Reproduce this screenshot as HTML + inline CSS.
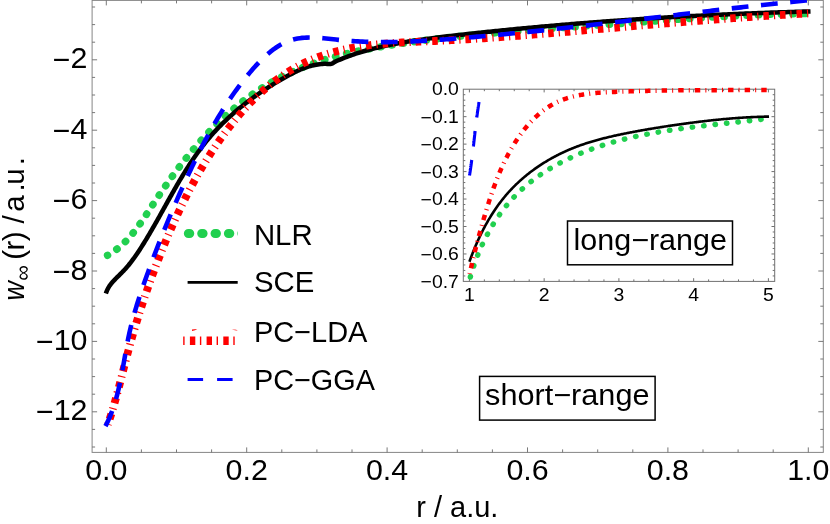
<!DOCTYPE html>
<html><head><meta charset="utf-8"><title>plot</title>
<style>
html,body{margin:0;padding:0;background:#fff;overflow:hidden}
svg{display:block;will-change:transform}
text{font-family:"Liberation Sans",sans-serif;fill:#000}
</style></head><body>
<svg width="830" height="524" viewBox="0 0 830 524">
<rect x="0" y="0" width="830" height="524" fill="#fff"/>
<defs><clipPath id="cm"><rect x="92.1" y="0" width="731.1999999999999" height="452.4"/></clipPath><clipPath id="cl"><rect x="180" y="225" width="57.8" height="17"/></clipPath><clipPath id="ci"><rect x="463.3" y="85.2" width="311.40000000000003" height="196.2"/></clipPath></defs>
<g stroke="#858585" stroke-width="1" fill="none">
<rect x="92.1" y="0.4" width="731.1999999999999" height="452.0"/>
<path d="M106.30,452.4v-5.0M106.30,0.4v5.0M141.40,452.4v-3.0M141.40,0.4v3.0M176.50,452.4v-3.0M176.50,0.4v3.0M211.60,452.4v-3.0M211.60,0.4v3.0M246.70,452.4v-5.0M246.70,0.4v5.0M281.80,452.4v-3.0M281.80,0.4v3.0M316.90,452.4v-3.0M316.90,0.4v3.0M352.00,452.4v-3.0M352.00,0.4v3.0M387.10,452.4v-5.0M387.10,0.4v5.0M422.20,452.4v-3.0M422.20,0.4v3.0M457.30,452.4v-3.0M457.30,0.4v3.0M492.40,452.4v-3.0M492.40,0.4v3.0M527.50,452.4v-5.0M527.50,0.4v5.0M562.60,452.4v-3.0M562.60,0.4v3.0M597.70,452.4v-3.0M597.70,0.4v3.0M632.80,452.4v-3.0M632.80,0.4v3.0M667.90,452.4v-5.0M667.90,0.4v5.0M703.00,452.4v-3.0M703.00,0.4v3.0M738.10,452.4v-3.0M738.10,0.4v3.0M773.20,452.4v-3.0M773.20,0.4v3.0M808.30,452.4v-5.0M808.30,0.4v5.0M92.1,447.00h3.0M823.3,447.00h-3.0M92.1,429.40h3.0M823.3,429.40h-3.0M92.1,411.80h5.0M823.3,411.80h-5.0M92.1,394.20h3.0M823.3,394.20h-3.0M92.1,376.60h3.0M823.3,376.60h-3.0M92.1,359.00h3.0M823.3,359.00h-3.0M92.1,341.40h5.0M823.3,341.40h-5.0M92.1,323.80h3.0M823.3,323.80h-3.0M92.1,306.20h3.0M823.3,306.20h-3.0M92.1,288.60h3.0M823.3,288.60h-3.0M92.1,271.00h5.0M823.3,271.00h-5.0M92.1,253.40h3.0M823.3,253.40h-3.0M92.1,235.80h3.0M823.3,235.80h-3.0M92.1,218.20h3.0M823.3,218.20h-3.0M92.1,200.60h5.0M823.3,200.60h-5.0M92.1,183.00h3.0M823.3,183.00h-3.0M92.1,165.40h3.0M823.3,165.40h-3.0M92.1,147.80h3.0M823.3,147.80h-3.0M92.1,130.20h5.0M823.3,130.20h-5.0M92.1,112.60h3.0M823.3,112.60h-3.0M92.1,95.00h3.0M823.3,95.00h-3.0M92.1,77.40h3.0M823.3,77.40h-3.0M92.1,59.80h5.0M823.3,59.80h-5.0M92.1,42.20h3.0M823.3,42.20h-3.0M92.1,24.60h3.0M823.3,24.60h-3.0M92.1,7.00h3.0M823.3,7.00h-3.0" stroke="#6a6a6a" stroke-width="0.9"/>
</g>
<g clip-path="url(#cm)" fill="none" stroke-linejoin="round">
<path d="M107.55,255.32 L109.27,254.34 L110.95,253.31 L112.60,252.25 L114.21,251.15 L115.78,250.00 L117.33,248.82 L118.84,247.61 L120.32,246.36 L121.77,245.07 L123.19,243.76 L124.59,242.41 L125.96,241.04 L127.30,239.63 L128.62,238.20 L129.92,236.75 L131.20,235.27 L132.45,233.77 L133.69,232.25 L134.91,230.71 L136.11,229.15 L137.29,227.57 L138.47,225.98 L139.63,224.38 L140.77,222.76 L141.91,221.13 L143.03,219.50 L144.15,217.85 L145.26,216.20 L146.36,214.54 L147.46,212.87 L148.56,211.21 L149.65,209.54 L150.74,207.87 L151.83,206.21 L152.92,204.54 L154.01,202.88 L155.11,201.23 L156.20,199.58 L157.30,197.93 L158.41,196.28 L159.51,194.64 L160.62,193.01 L161.73,191.38 L162.84,189.75 L163.96,188.13 L165.09,186.51 L166.21,184.89 L167.34,183.28 L168.48,181.68 L169.62,180.07 L170.76,178.48 L171.91,176.88 L173.07,175.29 L174.23,173.71 L175.40,172.13 L176.57,170.55 L177.75,168.98 L178.94,167.41 L180.13,165.85 L181.33,164.29 L182.53,162.73 L183.75,161.18 L184.97,159.64 L186.20,158.09 L187.43,156.56 L188.68,155.03 L189.93,153.50 L191.19,151.98 L192.46,150.46 L193.73,148.95 L195.02,147.44 L196.31,145.94 L197.61,144.45 L198.92,142.96 L200.23,141.48 L201.55,140.00 L202.89,138.53 L204.23,137.07 L205.57,135.62 L206.93,134.17 L208.29,132.73 L209.67,131.30 L211.05,129.87 L212.43,128.45 L213.83,127.04 L215.24,125.64 L216.65,124.25 L218.07,122.87 L219.50,121.50 L220.93,120.13 L222.38,118.77 L223.83,117.43 L225.30,116.09 L226.77,114.76 L228.24,113.45 L229.73,112.14 L231.23,110.84 L232.73,109.56 L234.24,108.28 L235.76,107.02 L237.29,105.76 L238.82,104.52 L240.37,103.29 L241.92,102.07 L243.48,100.86 L245.05,99.67 L246.63,98.48 L248.22,97.31 L249.81,96.15 L251.42,95.01 L253.03,93.88 L254.65,92.76 L256.28,91.65 L257.92,90.56 L259.56,89.48 L261.22,88.41 L262.88,87.36 L264.55,86.32 L266.23,85.30 L267.92,84.29 L269.62,83.30 L271.32,82.32 L273.04,81.35 L274.76,80.41 L276.49,79.47 L278.23,78.55 L279.98,77.65 L281.73,76.76 L283.50,75.88 L285.27,75.02 L287.05,74.17 L288.83,73.34 L290.62,72.52 L292.42,71.72 L294.22,70.92 L296.03,70.14 L297.85,69.38 L299.67,68.63 L301.50,67.89 L303.34,67.16 L305.18,66.45 L307.02,65.75 L308.87,65.06 L310.73,64.38 L312.59,63.72 L314.46,63.06 L316.32,62.42 L318.20,61.80 L320.08,61.18 L321.96,60.57 L323.84,59.98 L325.73,59.40 L327.62,58.83 L329.52,58.27 L331.42,57.72 L333.32,57.18 L335.22,56.65 L337.13,56.13 L339.03,55.62 L340.94,55.13 L342.86,54.64 L344.77,54.16 L346.69,53.69 L348.61,53.24 L350.53,52.79 L352.45,52.34 L354.38,51.91 L356.30,51.49 L358.23,51.07 L360.16,50.66 L362.09,50.26 L364.03,49.87 L365.96,49.49 L367.90,49.11 L369.84,48.74 L371.78,48.37 L373.72,48.02 L375.66,47.66 L377.60,47.32 L379.55,46.98 L381.49,46.65 L383.44,46.32 L385.38,46.00 L387.33,45.68 L389.28,45.37 L391.23,45.06 L393.18,44.76 L395.13,44.46 L397.09,44.16 L399.04,43.87 L400.99,43.58 L402.94,43.30 L404.90,43.02 L406.85,42.74 L408.81,42.47 L410.76,42.19 L412.72,41.93 L414.67,41.66 L416.63,41.40 L418.59,41.14 L420.54,40.88 L422.50,40.63 L424.46,40.37 L426.42,40.13 L428.38,39.88 L430.33,39.64 L432.29,39.40 L434.25,39.16 L436.21,38.92 L438.17,38.69 L440.13,38.46 L442.09,38.23 L444.05,38.00 L446.01,37.78 L447.98,37.56 L449.94,37.34 L451.90,37.12 L453.86,36.91 L455.82,36.70 L457.79,36.49 L459.75,36.28 L461.71,36.08 L463.68,35.87 L465.64,35.67 L467.60,35.47 L469.57,35.28 L471.53,35.08 L473.50,34.89 L475.46,34.70 L477.43,34.51 L479.39,34.32 L481.36,34.13 L483.32,33.95 L485.29,33.77 L487.26,33.59 L489.22,33.41 L491.19,33.23 L493.16,33.05 L495.12,32.88 L497.09,32.71 L499.06,32.54 L501.03,32.37 L502.99,32.20 L504.96,32.03 L506.93,31.87 L508.90,31.70 L510.87,31.54 L512.83,31.38 L514.80,31.22 L516.77,31.06 L518.74,30.90 L520.71,30.74 L522.68,30.59 L524.65,30.43 L526.62,30.28 L528.59,30.13 L530.56,29.97 L532.53,29.82 L534.50,29.67 L536.47,29.52 L538.44,29.38 L540.41,29.23 L542.38,29.08 L544.35,28.94 L546.32,28.79 L548.29,28.65 L550.26,28.50 L552.23,28.36 L554.20,28.22 L556.17,28.07 L558.14,27.93 L560.11,27.79 L562.08,27.65 L564.05,27.51 L566.02,27.37 L567.99,27.23 L569.96,27.09 L571.93,26.95 L573.91,26.81 L575.88,26.67 L577.85,26.53 L579.82,26.39 L581.79,26.25 L583.76,26.12 L585.73,25.98 L587.70,25.84 L589.67,25.70 L591.64,25.56 L593.61,25.42 L595.58,25.28 L597.56,25.15 L599.53,25.01 L601.50,24.87 L603.47,24.73 L605.44,24.59 L607.41,24.45 L609.38,24.30 L611.35,24.16 L613.32,24.02 L615.29,23.88 L617.26,23.74 L619.23,23.59 L621.20,23.45 L623.17,23.31 L625.14,23.17 L627.11,23.02 L629.08,22.88 L631.05,22.73 L633.02,22.59 L634.99,22.45 L636.96,22.30 L638.93,22.16 L640.90,22.02 L642.87,21.87 L644.84,21.73 L646.81,21.58 L648.77,21.44 L650.74,21.30 L652.71,21.16 L654.68,21.01 L656.65,20.87 L658.62,20.73 L660.59,20.59 L662.56,20.45 L664.53,20.31 L666.50,20.17 L668.47,20.03 L670.44,19.89 L672.41,19.75 L674.38,19.61 L676.35,19.48 L678.32,19.34 L680.29,19.21 L682.26,19.07 L684.23,18.94 L686.20,18.81 L688.17,18.67 L690.14,18.54 L692.11,18.41 L694.08,18.28 L696.05,18.16 L698.02,18.03 L699.99,17.90 L701.96,17.78 L703.93,17.65 L705.90,17.53 L707.87,17.41 L709.84,17.29 L711.81,17.17 L713.78,17.05 L715.75,16.94 L717.72,16.82 L719.69,16.71 L721.66,16.60 L723.64,16.49 L725.61,16.38 L727.58,16.27 L729.55,16.16 L731.52,16.06 L733.49,15.96 L735.46,15.86 L737.44,15.76 L739.41,15.66 L741.38,15.57 L743.35,15.47 L745.33,15.38 L747.30,15.29 L749.27,15.20 L751.24,15.12 L753.22,15.03 L755.19,14.95 L757.16,14.87 L759.14,14.79 L761.11,14.72 L763.09,14.64 L765.06,14.57 L767.03,14.50 L769.01,14.43 L770.98,14.37 L772.96,14.31 L774.93,14.25 L776.91,14.19 L778.88,14.13 L780.86,14.08 L782.83,14.03 L784.81,13.98 L786.78,13.94 L788.76,13.89 L790.74,13.85 L792.71,13.82 L794.69,13.78 L796.67,13.75 L798.64,13.72 L800.62,13.70 L802.60,13.67 L804.58,13.65 L806.56,13.63 L808.53,13.62 L810.51,13.61" stroke="#21d04f" stroke-width="7.4" stroke-linecap="round" stroke-dasharray="0.5 10.997" stroke-dashoffset="0.49"/>
<path d="M105.88,293.54 L106.37,292.05 L106.94,290.62 L107.59,289.24 L108.31,287.90 L109.09,286.62 L109.93,285.37 L110.83,284.16 L111.76,282.98 L112.74,281.83 L113.76,280.70 L114.80,279.59 L115.87,278.50 L116.95,277.42 L118.04,276.34 L119.14,275.27 L120.24,274.20 L121.33,273.12 L122.41,272.03 L123.48,270.93 L124.52,269.81 L125.55,268.68 L126.55,267.54 L127.54,266.38 L128.52,265.22 L129.48,264.03 L130.42,262.84 L131.35,261.64 L132.27,260.43 L133.18,259.21 L134.07,257.98 L134.95,256.74 L135.82,255.49 L136.68,254.24 L137.54,252.97 L138.38,251.71 L139.22,250.43 L140.05,249.16 L140.87,247.87 L141.69,246.59 L142.51,245.29 L143.31,244.00 L144.12,242.70 L144.92,241.40 L145.72,240.10 L146.51,238.79 L147.30,237.48 L148.08,236.17 L148.86,234.85 L149.64,233.53 L150.42,232.21 L151.19,230.89 L151.96,229.57 L152.72,228.24 L153.49,226.91 L154.25,225.58 L155.01,224.25 L155.77,222.91 L156.52,221.58 L157.28,220.24 L158.03,218.90 L158.78,217.57 L159.53,216.23 L160.28,214.89 L161.02,213.54 L161.77,212.20 L162.52,210.86 L163.26,209.52 L164.01,208.17 L164.75,206.83 L165.50,205.49 L166.24,204.15 L166.99,202.80 L167.74,201.46 L168.48,200.12 L169.23,198.78 L169.98,197.44 L170.73,196.10 L171.48,194.77 L172.23,193.43 L172.99,192.09 L173.75,190.76 L174.51,189.43 L175.27,188.10 L176.03,186.77 L176.80,185.44 L177.56,184.12 L178.33,182.80 L179.11,181.48 L179.89,180.16 L180.67,178.84 L181.45,177.53 L182.24,176.22 L183.03,174.91 L183.83,173.61 L184.63,172.31 L185.43,171.01 L186.24,169.72 L187.05,168.43 L187.87,167.14 L188.69,165.86 L189.52,164.58 L190.35,163.31 L191.19,162.03 L192.04,160.77 L192.89,159.51 L193.74,158.25 L194.61,157.00 L195.47,155.75 L196.35,154.51 L197.23,153.27 L198.12,152.03 L199.01,150.81 L199.92,149.59 L200.82,148.37 L201.74,147.16 L202.67,145.95 L203.60,144.75 L204.54,143.56 L205.48,142.37 L206.44,141.19 L207.41,140.02 L208.38,138.85 L209.36,137.69 L210.35,136.54 L211.35,135.39 L212.35,134.25 L213.37,133.11 L214.39,131.98 L215.42,130.86 L216.46,129.75 L217.51,128.64 L218.56,127.54 L219.62,126.44 L220.69,125.35 L221.77,124.27 L222.85,123.20 L223.94,122.13 L225.04,121.06 L226.15,120.01 L227.26,118.96 L228.38,117.92 L229.50,116.88 L230.64,115.85 L231.78,114.83 L232.92,113.81 L234.07,112.80 L235.23,111.80 L236.40,110.80 L237.57,109.81 L238.74,108.83 L239.93,107.85 L241.11,106.88 L242.31,105.92 L243.51,104.96 L244.71,104.01 L245.92,103.07 L247.14,102.13 L248.36,101.20 L249.59,100.27 L250.82,99.35 L252.06,98.44 L253.30,97.54 L254.54,96.64 L255.79,95.75 L257.05,94.86 L258.31,93.98 L259.57,93.11 L260.84,92.25 L262.12,91.39 L263.39,90.54 L264.67,89.69 L265.96,88.85 L267.25,88.02 L268.54,87.19 L269.84,86.37 L271.14,85.56 L272.44,84.75 L273.75,83.95 L275.06,83.16 L276.37,82.37 L277.69,81.59 L279.01,80.82 L280.33,80.05 L281.66,79.29 L282.99,78.54 L284.32,77.79 L285.65,77.05 L286.99,76.31 L288.32,75.58 L289.67,74.86 L291.01,74.15 L292.36,73.45 L293.71,72.76 L295.07,72.09 L296.43,71.43 L297.80,70.79 L299.17,70.16 L300.55,69.56 L301.94,68.97 L303.33,68.41 L304.74,67.88 L306.15,67.37 L307.57,66.89 L309.00,66.44 L310.45,66.02 L311.90,65.63 L313.36,65.27 L314.84,64.95 L316.33,64.67 L317.83,64.43 L319.34,64.23 L320.87,64.07 L322.42,63.95 L323.98,63.87 L325.54,63.86 L327.13,63.88 L328.74,63.95 L330.41,64.03 L332.10,63.65 L333.01,63.00 L334.79,61.86 L336.55,61.05 L338.27,60.30 L340.00,59.57 L341.73,58.86 L343.47,58.16 L345.21,57.48 L346.95,56.82 L348.70,56.18 L350.45,55.54 L352.21,54.93 L353.98,54.33 L355.74,53.74 L357.51,53.17 L359.29,52.61 L361.06,52.06 L362.85,51.53 L364.63,51.01 L366.42,50.50 L368.21,50.00 L370.01,49.52 L371.80,49.04 L373.61,48.58 L375.41,48.13 L377.22,47.69 L379.02,47.25 L380.84,46.83 L382.65,46.42 L384.47,46.02 L386.28,45.63 L388.11,45.24 L389.93,44.87 L391.75,44.50 L393.58,44.15 L395.41,43.80 L397.24,43.45 L399.08,43.12 L400.91,42.79 L402.75,42.47 L404.59,42.16 L406.43,41.86 L408.27,41.56 L410.11,41.26 L411.96,40.98 L413.80,40.69 L415.65,40.42 L417.50,40.15 L419.35,39.88 L421.20,39.62 L423.05,39.37 L424.91,39.12 L426.76,38.87 L428.62,38.62 L430.47,38.39 L432.33,38.15 L434.18,37.92 L436.04,37.69 L437.90,37.46 L439.76,37.23 L441.62,37.01 L443.48,36.79 L445.33,36.57 L447.19,36.36 L449.05,36.14 L450.91,35.93 L452.77,35.71 L454.63,35.50 L456.49,35.29 L458.35,35.08 L460.21,34.87 L462.07,34.66 L463.93,34.45 L465.79,34.25 L467.65,34.04 L469.51,33.84 L471.37,33.63 L473.23,33.43 L475.09,33.23 L476.95,33.03 L478.81,32.83 L480.67,32.63 L482.53,32.43 L484.39,32.23 L486.25,32.04 L488.11,31.84 L489.97,31.65 L491.83,31.46 L493.69,31.27 L495.55,31.08 L497.41,30.89 L499.27,30.70 L501.13,30.51 L502.99,30.32 L504.85,30.14 L506.71,29.95 L508.57,29.77 L510.43,29.58 L512.29,29.40 L514.15,29.22 L516.01,29.04 L517.87,28.86 L519.73,28.68 L521.59,28.50 L523.45,28.33 L525.31,28.15 L527.17,27.98 L529.03,27.80 L530.89,27.63 L532.75,27.46 L534.61,27.29 L536.47,27.12 L538.33,26.95 L540.19,26.78 L542.05,26.61 L543.91,26.45 L545.77,26.28 L547.63,26.12 L549.49,25.95 L551.35,25.79 L553.21,25.63 L555.07,25.47 L556.94,25.31 L558.80,25.15 L560.66,24.99 L562.52,24.84 L564.38,24.68 L566.24,24.52 L568.10,24.37 L569.96,24.22 L571.82,24.06 L573.68,23.91 L575.54,23.76 L577.41,23.61 L579.27,23.46 L581.13,23.31 L582.99,23.17 L584.85,23.02 L586.71,22.88 L588.57,22.73 L590.43,22.59 L592.30,22.45 L594.16,22.30 L596.02,22.16 L597.88,22.02 L599.74,21.88 L601.60,21.74 L603.47,21.61 L605.33,21.47 L607.19,21.33 L609.05,21.20 L610.91,21.07 L612.78,20.93 L614.64,20.80 L616.50,20.67 L618.36,20.54 L620.22,20.41 L622.09,20.28 L623.95,20.15 L625.81,20.03 L627.67,19.90 L629.54,19.77 L631.40,19.65 L633.26,19.53 L635.12,19.40 L636.99,19.28 L638.85,19.16 L640.71,19.04 L642.57,18.92 L644.44,18.80 L646.30,18.68 L648.16,18.57 L650.03,18.45 L651.89,18.34 L653.75,18.22 L655.62,18.11 L657.48,17.99 L659.34,17.88 L661.21,17.77 L663.07,17.66 L664.93,17.55 L666.80,17.44 L668.66,17.34 L670.52,17.23 L672.39,17.12 L674.25,17.02 L676.11,16.91 L677.98,16.81 L679.84,16.71 L681.71,16.60 L683.57,16.50 L685.44,16.40 L687.30,16.30 L689.16,16.20 L691.03,16.10 L692.89,16.01 L694.76,15.91 L696.62,15.82 L698.49,15.72 L700.35,15.63 L702.22,15.53 L704.08,15.44 L705.95,15.35 L707.81,15.26 L709.68,15.17 L711.54,15.08 L713.41,14.99 L715.27,14.90 L717.14,14.81 L719.00,14.73 L720.87,14.64 L722.74,14.56 L724.60,14.47 L726.47,14.39 L728.33,14.31 L730.20,14.23 L732.06,14.15 L733.93,14.07 L735.80,13.99 L737.66,13.91 L739.53,13.83 L741.40,13.75 L743.26,13.68 L745.13,13.60 L747.00,13.53 L748.86,13.45 L750.73,13.38 L752.60,13.31 L754.46,13.23 L756.33,13.16 L758.20,13.09 L760.07,13.02 L761.93,12.95 L763.80,12.89 L765.67,12.82 L767.54,12.75 L769.40,12.69 L771.27,12.62 L773.14,12.56 L775.01,12.49 L776.88,12.43 L778.75,12.37 L780.61,12.31 L782.48,12.24 L784.35,12.18 L786.22,12.13 L788.09,12.07 L789.96,12.01 L791.83,11.95 L793.69,11.89 L795.56,11.84 L797.43,11.78 L799.30,11.73 L801.17,11.68 L803.04,11.62 L804.91,11.57 L806.78,11.52 L808.65,11.47 L810.52,11.42" stroke="#000" stroke-width="4.5"/>
<path d="M107.88,424.40 L108.63,422.20 L109.36,420.00 L110.08,417.79 L110.78,415.58 L111.48,413.36 L112.16,411.14 L112.83,408.92 L113.49,406.69 L114.14,404.45 L114.78,402.22 L115.42,399.98 L116.04,397.73 L116.66,395.49 L117.27,393.24 L117.88,390.99 L118.48,388.74 L119.07,386.48 L119.67,384.22 L120.25,381.96 L120.84,379.70 L121.42,377.44 L122.01,375.18 L122.59,372.92 L123.17,370.65 L123.75,368.39 L124.33,366.12 L124.91,363.86 L125.50,361.60 L126.09,359.33 L126.68,357.07 L127.27,354.81 L127.87,352.54 L128.48,350.28 L129.09,348.03 L129.71,345.77 L130.33,343.51 L130.96,341.26 L131.60,339.01 L132.24,336.76 L132.89,334.51 L133.54,332.26 L134.20,330.01 L134.87,327.77 L135.54,325.53 L136.22,323.29 L136.90,321.05 L137.59,318.81 L138.29,316.58 L138.99,314.35 L139.70,312.12 L140.42,309.89 L141.14,307.66 L141.86,305.43 L142.60,303.21 L143.34,300.99 L144.08,298.77 L144.83,296.55 L145.59,294.34 L146.35,292.13 L147.12,289.92 L147.89,287.71 L148.67,285.50 L149.45,283.30 L150.25,281.10 L151.04,278.90 L151.85,276.70 L152.65,274.51 L153.47,272.31 L154.29,270.12 L155.11,267.93 L155.94,265.75 L156.78,263.57 L157.62,261.39 L158.47,259.21 L159.33,257.03 L160.19,254.86 L161.05,252.69 L161.92,250.52 L162.80,248.35 L163.68,246.19 L164.57,244.03 L165.46,241.87 L166.36,239.72 L167.27,237.57 L168.18,235.42 L169.09,233.27 L170.02,231.13 L170.95,228.99 L171.88,226.85 L172.82,224.71 L173.77,222.58 L174.73,220.46 L175.69,218.33 L176.66,216.21 L177.64,214.09 L178.63,211.98 L179.62,209.87 L180.62,207.77 L181.63,205.66 L182.65,203.57 L183.67,201.47 L184.71,199.39 L185.75,197.30 L186.80,195.22 L187.86,193.14 L188.93,191.07 L190.01,189.01 L191.10,186.94 L192.20,184.89 L193.31,182.83 L194.42,180.78 L195.55,178.74 L196.69,176.70 L197.84,174.67 L199.00,172.64 L200.17,170.62 L201.35,168.61 L202.54,166.59 L203.74,164.59 L204.96,162.59 L206.18,160.59 L207.42,158.61 L208.67,156.62 L209.93,154.65 L211.20,152.68 L212.48,150.71 L213.78,148.75 L215.09,146.80 L216.41,144.86 L217.75,142.92 L219.10,140.98 L220.46,139.06 L221.83,137.14 L223.22,135.23 L224.62,133.32 L226.04,131.43 L227.47,129.54 L228.91,127.66 L230.36,125.80 L231.83,123.94 L233.32,122.09 L234.81,120.26 L236.32,118.43 L237.85,116.62 L239.38,114.83 L240.94,113.04 L242.50,111.27 L244.08,109.51 L245.68,107.77 L247.28,106.05 L248.90,104.34 L250.54,102.64 L252.19,100.96 L253.86,99.30 L255.54,97.66 L257.23,96.04 L258.94,94.43 L260.66,92.85 L262.40,91.28 L264.15,89.73 L265.92,88.21 L267.70,86.70 L269.49,85.22 L271.30,83.76 L273.13,82.33 L274.97,80.91 L276.83,79.52 L278.70,78.16 L280.58,76.81 L282.48,75.50 L284.40,74.21 L286.33,72.94 L288.28,71.71 L290.24,70.50 L292.22,69.32 L294.21,68.16 L296.22,67.04 L298.24,65.94 L300.28,64.87 L302.33,63.84 L304.40,62.83 L306.49,61.86 L308.59,60.91 L310.71,60.00 L312.84,59.12 L314.98,58.26 L317.14,57.44 L319.31,56.64 L321.50,55.87 L323.69,55.13 L325.90,54.41 L328.12,53.73 L330.34,53.06 L332.58,52.42 L334.83,51.81 L337.09,51.22 L339.35,50.66 L341.62,50.12 L343.90,49.60 L346.19,49.10 L348.49,48.63 L350.79,48.17 L353.09,47.74 L355.40,47.33 L357.72,46.93 L360.04,46.56 L362.36,46.21 L364.69,45.87 L367.02,45.55 L369.35,45.25 L371.68,44.96 L374.02,44.69 L376.35,44.44 L378.69,44.20 L381.03,43.98 L383.37,43.76 L385.71,43.56 L388.05,43.38 L390.40,43.20 L392.74,43.03 L395.09,42.87 L397.43,42.73 L399.78,42.59 L402.13,42.45 L404.48,42.33 L406.83,42.21 L409.17,42.09 L411.52,41.98 L413.87,41.88 L416.22,41.78 L418.57,41.68 L420.92,41.58 L423.27,41.48 L425.62,41.39 L427.97,41.29 L430.31,41.19 L432.66,41.10 L435.01,41.00 L437.35,40.89 L439.70,40.78 L442.04,40.68 L444.38,40.56 L446.73,40.45 L449.07,40.33 L451.41,40.21 L453.75,40.09 L456.09,39.96 L458.43,39.83 L460.77,39.70 L463.11,39.57 L465.44,39.43 L467.78,39.29 L470.12,39.15 L472.45,39.01 L474.79,38.87 L477.12,38.72 L479.45,38.57 L481.79,38.42 L484.12,38.27 L486.45,38.11 L488.79,37.95 L491.12,37.79 L493.45,37.63 L495.78,37.47 L498.11,37.30 L500.44,37.14 L502.77,36.97 L505.10,36.80 L507.43,36.63 L509.76,36.46 L512.08,36.28 L514.41,36.10 L516.74,35.93 L519.07,35.75 L521.40,35.57 L523.72,35.39 L526.05,35.20 L528.38,35.02 L530.70,34.83 L533.03,34.65 L535.36,34.46 L537.68,34.27 L540.01,34.08 L542.34,33.89 L544.66,33.70 L546.99,33.51 L549.32,33.32 L551.64,33.12 L553.97,32.93 L556.30,32.73 L558.62,32.54 L560.95,32.34 L563.27,32.15 L565.60,31.95 L567.93,31.75 L570.25,31.55 L572.58,31.36 L574.91,31.16 L577.24,30.96 L579.56,30.76 L581.89,30.56 L584.22,30.36 L586.55,30.16 L588.87,29.96 L591.20,29.76 L593.53,29.56 L595.86,29.36 L598.19,29.16 L600.52,28.96 L602.85,28.76 L605.18,28.56 L607.51,28.36 L609.84,28.16 L612.17,27.97 L614.50,27.77 L616.83,27.57 L619.16,27.37 L621.49,27.17 L623.82,26.97 L626.15,26.77 L628.49,26.57 L630.82,26.38 L633.15,26.18 L635.48,25.98 L637.81,25.79 L640.15,25.59 L642.48,25.39 L644.81,25.20 L647.14,25.00 L649.48,24.81 L651.81,24.61 L654.14,24.42 L656.47,24.22 L658.81,24.03 L661.14,23.84 L663.47,23.65 L665.81,23.45 L668.14,23.26 L670.47,23.07 L672.81,22.88 L675.14,22.69 L677.48,22.50 L679.81,22.32 L682.14,22.13 L684.48,21.94 L686.81,21.75 L689.15,21.57 L691.48,21.38 L693.81,21.20 L696.15,21.02 L698.48,20.83 L700.82,20.65 L703.15,20.47 L705.48,20.29 L707.82,20.11 L710.15,19.93 L712.49,19.76 L714.82,19.58 L717.16,19.40 L719.49,19.23 L721.82,19.05 L724.16,18.88 L726.49,18.71 L728.83,18.54 L731.16,18.37 L733.49,18.20 L735.83,18.03 L738.16,17.87 L740.50,17.70 L742.83,17.54 L745.16,17.37 L747.50,17.21 L749.83,17.05 L752.16,16.89 L754.50,16.73 L756.83,16.57 L759.16,16.42 L761.50,16.26 L763.83,16.11 L766.16,15.96 L768.50,15.81 L770.83,15.66 L773.16,15.51 L775.49,15.36 L777.83,15.22 L780.16,15.07 L782.49,14.93 L784.82,14.79 L787.15,14.65 L789.49,14.51 L791.82,14.37 L794.15,14.24 L796.48,14.10 L798.81,13.97 L801.14,13.84 L803.47,13.71 L805.80,13.58 L808.13,13.46 L810.46,13.33" stroke="#f00" stroke-width="7.8" stroke-dasharray="1.2 4.936 5.536 4.936" stroke-dashoffset="0.6"/>
<path d="M105.47,426.15 L106.57,423.98 L107.62,421.80 L108.63,419.60 L109.59,417.39 L110.51,415.16 L111.40,412.93 L112.24,410.68 L113.04,408.42 L113.82,406.15 L114.55,403.86 L115.26,401.57 L115.93,399.27 L116.58,396.96 L117.20,394.64 L117.79,392.31 L118.37,389.98 L118.92,387.63 L119.44,385.29 L119.96,382.93 L120.45,380.57 L120.93,378.21 L121.39,375.84 L121.85,373.47 L122.29,371.09 L122.73,368.72 L123.15,366.34 L123.58,363.96 L124.00,361.57 L124.41,359.19 L124.83,356.81 L125.25,354.43 L125.67,352.05 L126.10,349.67 L126.54,347.29 L126.98,344.92 L127.43,342.55 L127.89,340.18 L128.37,337.82 L128.86,335.46 L129.37,333.11 L129.90,330.76 L130.44,328.42 L131.00,326.08 L131.58,323.75 L132.18,321.43 L132.79,319.11 L133.42,316.80 L134.06,314.49 L134.72,312.18 L135.39,309.88 L136.08,307.58 L136.78,305.29 L137.48,303.00 L138.21,300.71 L138.94,298.43 L139.68,296.15 L140.43,293.87 L141.20,291.59 L141.97,289.32 L142.75,287.04 L143.53,284.77 L144.33,282.50 L145.13,280.24 L145.93,277.97 L146.74,275.70 L147.56,273.44 L148.38,271.17 L149.21,268.91 L150.04,266.64 L150.88,264.38 L151.72,262.12 L152.57,259.86 L153.42,257.60 L154.27,255.34 L155.13,253.08 L156.00,250.83 L156.87,248.57 L157.74,246.32 L158.62,244.06 L159.51,241.81 L160.40,239.56 L161.29,237.32 L162.19,235.07 L163.09,232.83 L164.00,230.58 L164.91,228.34 L165.83,226.11 L166.75,223.87 L167.67,221.63 L168.60,219.40 L169.54,217.17 L170.47,214.94 L171.42,212.72 L172.36,210.49 L173.31,208.27 L174.27,206.05 L175.23,203.84 L176.19,201.62 L177.16,199.41 L178.13,197.20 L179.10,195.00 L180.08,192.79 L181.07,190.59 L182.06,188.40 L183.05,186.20 L184.04,184.01 L185.04,181.82 L186.05,179.64 L187.05,177.46 L188.06,175.28 L189.08,173.10 L190.10,170.93 L191.12,168.76 L192.15,166.60 L193.18,164.44 L194.22,162.28 L195.26,160.13 L196.31,157.98 L197.37,155.83 L198.43,153.69 L199.50,151.56 L200.58,149.42 L201.66,147.29 L202.75,145.17 L203.85,143.05 L204.96,140.94 L206.08,138.83 L207.21,136.72 L208.34,134.62 L209.49,132.52 L210.65,130.43 L211.81,128.35 L212.99,126.27 L214.18,124.19 L215.38,122.12 L216.59,120.06 L217.81,118.00 L219.05,115.95 L220.30,113.90 L221.56,111.86 L222.83,109.82 L224.12,107.79 L225.43,105.77 L226.74,103.75 L228.07,101.74 L229.42,99.74 L230.78,97.74 L232.16,95.75 L233.55,93.76 L234.96,91.78 L236.39,89.81 L237.83,87.84 L239.29,85.88 L240.77,83.93 L242.26,81.99 L243.78,80.05 L245.31,78.12 L246.86,76.20 L248.43,74.28 L250.02,72.37 L251.63,70.48 L253.26,68.59 L254.91,66.73 L256.58,64.89 L258.28,63.07 L259.99,61.29 L261.73,59.53 L263.49,57.82 L265.28,56.15 L267.09,54.53 L268.93,52.96 L270.79,51.44 L272.68,49.98 L274.60,48.59 L276.54,47.26 L278.51,46.00 L280.51,44.82 L282.53,43.71 L284.59,42.69 L286.67,41.75 L288.79,40.91 L290.94,40.16 L293.12,39.51 L295.33,38.97 L297.57,38.52 L299.83,38.16 L302.13,37.89 L304.45,37.70 L306.79,37.58 L309.15,37.52 L311.53,37.53 L313.92,37.60 L316.34,37.71 L318.76,37.86 L321.19,38.05 L323.63,38.27 L326.08,38.51 L328.54,38.76 L330.99,39.03 L333.45,39.31 L335.91,39.58 L338.36,39.84 L340.81,40.09 L343.25,40.32 L345.68,40.54 L348.12,40.74 L350.54,40.93 L352.97,41.10 L355.38,41.26 L357.80,41.40 L360.21,41.53 L362.61,41.64 L365.02,41.74 L367.42,41.83 L369.82,41.91 L372.21,41.97 L374.60,42.02 L376.99,42.06 L379.38,42.09 L381.77,42.10 L384.16,42.11 L386.55,42.10 L388.93,42.08 L391.32,42.06 L393.70,42.02 L396.09,41.98 L398.47,41.92 L400.86,41.86 L403.25,41.78 L405.64,41.70 L408.03,41.61 L410.42,41.52 L412.81,41.41 L415.21,41.30 L417.61,41.18 L420.01,41.06 L422.41,40.92 L424.81,40.79 L427.21,40.64 L429.62,40.49 L432.02,40.34 L434.43,40.18 L436.84,40.01 L439.25,39.84 L441.66,39.66 L444.07,39.49 L446.48,39.30 L448.89,39.12 L451.30,38.92 L453.71,38.73 L456.12,38.53 L458.53,38.33 L460.94,38.13 L463.35,37.93 L465.76,37.72 L468.16,37.51 L470.57,37.30 L472.98,37.09 L475.39,36.88 L477.79,36.66 L480.20,36.45 L482.60,36.23 L485.00,36.01 L487.41,35.79 L489.81,35.57 L492.21,35.35 L494.61,35.12 L497.01,34.90 L499.41,34.67 L501.81,34.44 L504.21,34.21 L506.61,33.98 L509.00,33.75 L511.40,33.51 L513.80,33.28 L516.19,33.04 L518.59,32.80 L520.99,32.56 L523.38,32.32 L525.78,32.08 L528.17,31.84 L530.56,31.59 L532.96,31.35 L535.35,31.10 L537.74,30.85 L540.14,30.60 L542.53,30.35 L544.92,30.10 L547.31,29.85 L549.71,29.59 L552.10,29.34 L554.49,29.08 L556.88,28.82 L559.27,28.57 L561.66,28.31 L564.05,28.04 L566.44,27.78 L568.83,27.52 L571.22,27.26 L573.62,26.99 L576.01,26.72 L578.40,26.46 L580.79,26.19 L583.18,25.92 L585.57,25.65 L587.96,25.38 L590.35,25.10 L592.74,24.83 L595.13,24.56 L597.52,24.28 L599.91,24.01 L602.30,23.73 L604.69,23.45 L607.09,23.17 L609.48,22.89 L611.87,22.61 L614.26,22.33 L616.65,22.05 L619.04,21.77 L621.43,21.49 L623.83,21.20 L626.22,20.92 L628.61,20.64 L631.00,20.35 L633.39,20.07 L635.78,19.78 L638.18,19.50 L640.57,19.21 L642.96,18.92 L645.35,18.64 L647.74,18.35 L650.14,18.06 L652.53,17.78 L654.92,17.49 L657.31,17.20 L659.71,16.92 L662.10,16.63 L664.49,16.34 L666.88,16.06 L669.27,15.77 L671.67,15.48 L674.06,15.19 L676.45,14.91 L678.85,14.62 L681.24,14.33 L683.63,14.05 L686.02,13.76 L688.42,13.48 L690.81,13.19 L693.20,12.91 L695.60,12.62 L697.99,12.34 L700.38,12.06 L702.78,11.77 L705.17,11.49 L707.56,11.21 L709.96,10.93 L712.35,10.65 L714.74,10.37 L717.14,10.09 L719.53,9.81 L721.92,9.54 L724.32,9.26 L726.71,8.98 L729.10,8.71 L731.50,8.43 L733.89,8.16 L736.29,7.89 L738.68,7.62 L741.07,7.35 L743.47,7.08 L745.86,6.81 L748.26,6.54 L750.65,6.28 L753.04,6.01 L755.44,5.75 L757.83,5.49 L760.23,5.23 L762.62,4.97 L765.02,4.71 L767.41,4.45 L769.80,4.20 L772.20,3.95 L774.59,3.69 L776.99,3.44 L779.38,3.19 L781.78,2.95 L784.17,2.70 L786.57,2.46 L788.96,2.21 L791.36,1.97 L793.75,1.73 L796.15,1.49 L798.54,1.26 L800.94,1.03 L803.33,0.79 L805.73,0.56 L808.12,0.34 L810.52,0.11" stroke="#00f" stroke-width="4.6" stroke-dasharray="16.8 12.587" stroke-dashoffset="0.26"/>
</g>
<text x="106.3" y="479.8" font-size="30.4" text-anchor="middle">0.0</text>
<text x="246.7" y="479.8" font-size="30.4" text-anchor="middle">0.2</text>
<text x="387.1" y="479.8" font-size="30.4" text-anchor="middle">0.4</text>
<text x="527.5" y="479.8" font-size="30.4" text-anchor="middle">0.6</text>
<text x="667.9" y="479.8" font-size="30.4" text-anchor="middle">0.8</text>
<text x="808.3" y="479.8" font-size="30.4" text-anchor="middle">1.0</text>
<text x="87.5" y="68.4" font-size="30.4" text-anchor="end"><tspan dy="1.9">−</tspan><tspan dy="-1.9">2</tspan></text>
<text x="87.5" y="138.8" font-size="30.4" text-anchor="end"><tspan dy="1.9">−</tspan><tspan dy="-1.9">4</tspan></text>
<text x="87.5" y="209.2" font-size="30.4" text-anchor="end"><tspan dy="1.9">−</tspan><tspan dy="-1.9">6</tspan></text>
<text x="87.5" y="279.6" font-size="30.4" text-anchor="end"><tspan dy="1.9">−</tspan><tspan dy="-1.9">8</tspan></text>
<text x="87.5" y="350.0" font-size="30.4" text-anchor="end"><tspan dy="1.9">−</tspan><tspan dy="-1.9">10</tspan></text>
<text x="87.5" y="420.4" font-size="30.4" text-anchor="end"><tspan dy="1.9">−</tspan><tspan dy="-1.9">12</tspan></text>
<text x="416.2" y="516.5" font-size="29">r / a.u.</text>
<g transform="translate(23.8,0) rotate(-90)"><text transform="translate(-300.6,0) scale(0.92,1)" font-size="29" font-style="italic">w</text><text x="-280.85" y="6.4" font-size="22">∞</text><text x="-259.7 -250.4 -241.3 -223.4 -211.8 -191.6 -184.7 -165.3" y="0" font-size="29.5">(r)/a.u.</text></g>
<g fill="none">
<path d="M188.4,233.5H242" stroke="#21d04f" stroke-width="9.1" stroke-linecap="round" stroke-dasharray="1.3 12.05" clip-path="url(#cl)"/>
<path d="M187.6,282.4H237.7" stroke="#000" stroke-width="2.9"/>
<path d="M183.2,340.7H237.7" stroke="#f00" stroke-width="8.5" stroke-dasharray="1.4 5.3 5.4 4.6"/>
<path d="M187.6,379.5H237.7" stroke="#00f" stroke-width="3.2" stroke-dasharray="15.5 14"/>
</g>
<text transform="translate(253.9,244.7) scale(0.985,1)" font-size="29.8">NLR</text>
<text transform="translate(253.9,291.5) scale(0.985,1)" font-size="29.8">SCE</text>
<text transform="translate(253.9,341.5) scale(0.972,1)" font-size="29.8">PC−LDA</text>
<text transform="translate(253.9,390.0) scale(0.968,1)" font-size="29.8">PC−GGA</text>
<path d="M192,330.9V329.6L197.3,329.1L195,330.3Z" fill="#f00"/>
<path d="M231.7,329.2L236,329.4L237.8,331L235.3,330.4Z" fill="#f00" opacity="0.6"/>
<rect x="479.6" y="376.4" width="175.5" height="43.7" fill="#fff" stroke="#000" stroke-width="1.5"/>
<text transform="translate(567.3,404.8) scale(1.005,0.96)" font-size="30.5" text-anchor="middle">short−range</text>
<rect x="463.3" y="89.2" width="311.40000000000003" height="192.2" fill="#fff"/>
<g stroke="#707070" stroke-width="1" fill="none">
<rect x="463.3" y="89.2" width="311.40000000000003" height="192.2"/>
<path d="M469.40,281.4v-3.2M469.40,89.2v3.2M484.35,281.4v-2.0M484.35,89.2v2.0M499.30,281.4v-2.0M499.30,89.2v2.0M514.25,281.4v-2.0M514.25,89.2v2.0M529.20,281.4v-2.0M529.20,89.2v2.0M544.15,281.4v-3.2M544.15,89.2v3.2M559.10,281.4v-2.0M559.10,89.2v2.0M574.05,281.4v-2.0M574.05,89.2v2.0M589.00,281.4v-2.0M589.00,89.2v2.0M603.95,281.4v-2.0M603.95,89.2v2.0M618.90,281.4v-3.2M618.90,89.2v3.2M633.85,281.4v-2.0M633.85,89.2v2.0M648.80,281.4v-2.0M648.80,89.2v2.0M663.75,281.4v-2.0M663.75,89.2v2.0M678.70,281.4v-2.0M678.70,89.2v2.0M693.65,281.4v-3.2M693.65,89.2v3.2M708.60,281.4v-2.0M708.60,89.2v2.0M723.55,281.4v-2.0M723.55,89.2v2.0M738.50,281.4v-2.0M738.50,89.2v2.0M753.45,281.4v-2.0M753.45,89.2v2.0M768.40,281.4v-3.2M768.40,89.2v3.2M463.3,94.69h2.0M774.7,94.69h-2.0M463.3,100.18h2.0M774.7,100.18h-2.0M463.3,105.68h2.0M774.7,105.68h-2.0M463.3,111.17h2.0M774.7,111.17h-2.0M463.3,116.66h3.2M774.7,116.66h-3.2M463.3,122.15h2.0M774.7,122.15h-2.0M463.3,127.64h2.0M774.7,127.64h-2.0M463.3,133.14h2.0M774.7,133.14h-2.0M463.3,138.63h2.0M774.7,138.63h-2.0M463.3,144.12h3.2M774.7,144.12h-3.2M463.3,149.61h2.0M774.7,149.61h-2.0M463.3,155.10h2.0M774.7,155.10h-2.0M463.3,160.60h2.0M774.7,160.60h-2.0M463.3,166.09h2.0M774.7,166.09h-2.0M463.3,171.58h3.2M774.7,171.58h-3.2M463.3,177.07h2.0M774.7,177.07h-2.0M463.3,182.56h2.0M774.7,182.56h-2.0M463.3,188.06h2.0M774.7,188.06h-2.0M463.3,193.55h2.0M774.7,193.55h-2.0M463.3,199.04h3.2M774.7,199.04h-3.2M463.3,204.53h2.0M774.7,204.53h-2.0M463.3,210.02h2.0M774.7,210.02h-2.0M463.3,215.52h2.0M774.7,215.52h-2.0M463.3,221.01h2.0M774.7,221.01h-2.0M463.3,226.50h3.2M774.7,226.50h-3.2M463.3,231.99h2.0M774.7,231.99h-2.0M463.3,237.48h2.0M774.7,237.48h-2.0M463.3,242.98h2.0M774.7,242.98h-2.0M463.3,248.47h2.0M774.7,248.47h-2.0M463.3,253.96h3.2M774.7,253.96h-3.2M463.3,259.45h2.0M774.7,259.45h-2.0M463.3,264.94h2.0M774.7,264.94h-2.0M463.3,270.44h2.0M774.7,270.44h-2.0M463.3,275.93h2.0M774.7,275.93h-2.0"/>
</g>
<g clip-path="url(#ci)" fill="none" stroke-linejoin="round">
<path d="M470.26,277.26 L470.51,276.38 L470.77,275.50 L471.02,274.62 L471.28,273.74 L471.55,272.86 L471.82,271.98 L472.09,271.10 L472.36,270.23 L472.64,269.35 L472.92,268.48 L473.21,267.60 L473.50,266.73 L473.80,265.86 L474.09,264.99 L474.39,264.11 L474.70,263.24 L475.01,262.38 L475.32,261.51 L475.64,260.64 L475.96,259.78 L476.28,258.91 L476.61,258.05 L476.94,257.19 L477.28,256.33 L477.61,255.47 L477.96,254.61 L478.30,253.75 L478.65,252.90 L479.01,252.04 L479.36,251.19 L479.72,250.34 L480.09,249.49 L480.46,248.64 L480.83,247.80 L481.21,246.95 L481.59,246.11 L481.97,245.27 L482.36,244.43 L482.75,243.59 L483.14,242.76 L483.54,241.92 L483.94,241.09 L484.35,240.26 L484.76,239.44 L485.17,238.61 L485.59,237.79 L486.01,236.96 L486.44,236.14 L486.86,235.33 L487.30,234.51 L487.73,233.70 L488.17,232.89 L488.62,232.08 L489.06,231.27 L489.51,230.47 L489.97,229.67 L490.43,228.87 L490.89,228.07 L491.36,227.28 L491.83,226.49 L492.30,225.70 L492.78,224.91 L493.26,224.13 L493.74,223.35 L494.23,222.57 L494.72,221.80 L495.22,221.02 L495.72,220.25 L496.22,219.49 L496.73,218.72 L497.24,217.96 L497.76,217.20 L498.28,216.45 L498.80,215.70 L499.32,214.95 L499.85,214.20 L500.39,213.46 L500.93,212.72 L501.47,211.98 L502.01,211.25 L502.56,210.52 L503.11,209.79 L503.67,209.07 L504.23,208.35 L504.79,207.64 L505.36,206.92 L505.93,206.21 L506.51,205.51 L507.09,204.81 L507.67,204.11 L508.26,203.41 L508.85,202.72 L509.44,202.03 L510.04,201.35 L510.64,200.67 L511.25,200.00 L511.86,199.32 L512.47,198.65 L513.09,197.99 L513.71,197.33 L514.33,196.67 L514.96,196.02 L515.60,195.37 L516.23,194.73 L516.87,194.09 L517.51,193.45 L518.16,192.82 L518.81,192.19 L519.47,191.57 L520.12,190.95 L520.78,190.33 L521.45,189.72 L522.12,189.11 L522.79,188.50 L523.46,187.90 L524.14,187.30 L524.82,186.71 L525.51,186.12 L526.20,185.53 L526.89,184.95 L527.58,184.37 L528.28,183.80 L528.98,183.23 L529.69,182.66 L530.39,182.10 L531.11,181.54 L531.82,180.98 L532.54,180.43 L533.26,179.88 L533.98,179.34 L534.70,178.80 L535.43,178.26 L536.16,177.73 L536.90,177.20 L537.63,176.67 L538.37,176.15 L539.12,175.63 L539.86,175.11 L540.61,174.60 L541.36,174.09 L542.11,173.58 L542.87,173.08 L543.63,172.58 L544.39,172.09 L545.15,171.60 L545.92,171.11 L546.69,170.63 L547.46,170.15 L548.23,169.67 L549.01,169.19 L549.79,168.72 L550.57,168.26 L551.35,167.79 L552.13,167.33 L552.92,166.88 L553.71,166.42 L554.50,165.97 L555.30,165.52 L556.09,165.08 L556.89,164.64 L557.69,164.20 L558.49,163.77 L559.30,163.34 L560.10,162.91 L560.91,162.49 L561.72,162.07 L562.53,161.65 L563.35,161.24 L564.16,160.82 L564.98,160.42 L565.80,160.01 L566.62,159.61 L567.44,159.21 L568.26,158.82 L569.09,158.42 L569.92,158.03 L570.75,157.65 L571.58,157.26 L572.41,156.88 L573.24,156.51 L574.08,156.13 L574.92,155.76 L575.75,155.39 L576.59,155.03 L577.43,154.67 L578.28,154.31 L579.12,153.95 L579.96,153.60 L580.81,153.25 L581.66,152.90 L582.51,152.56 L583.36,152.22 L584.21,151.88 L585.06,151.54 L585.91,151.21 L586.76,150.88 L587.62,150.55 L588.48,150.23 L589.33,149.91 L590.19,149.59 L591.05,149.28 L591.91,148.96 L592.77,148.65 L593.63,148.34 L594.49,148.04 L595.35,147.74 L596.22,147.44 L597.08,147.14 L597.95,146.85 L598.81,146.56 L599.68,146.27 L600.55,145.98 L601.42,145.70 L602.29,145.42 L603.16,145.14 L604.03,144.86 L604.90,144.59 L605.77,144.32 L606.64,144.05 L607.52,143.79 L608.39,143.52 L609.27,143.26 L610.14,143.00 L611.02,142.75 L611.90,142.49 L612.77,142.24 L613.65,141.99 L614.53,141.75 L615.41,141.50 L616.29,141.26 L617.17,141.02 L618.06,140.78 L618.94,140.55 L619.82,140.31 L620.71,140.08 L621.59,139.85 L622.47,139.63 L623.36,139.40 L624.25,139.18 L625.13,138.96 L626.02,138.74 L626.91,138.52 L627.80,138.31 L628.69,138.10 L629.58,137.89 L630.47,137.68 L631.36,137.47 L632.25,137.27 L633.14,137.07 L634.03,136.87 L634.92,136.67 L635.82,136.47 L636.71,136.28 L637.61,136.08 L638.50,135.89 L639.39,135.70 L640.29,135.52 L641.19,135.33 L642.08,135.15 L642.98,134.96 L643.88,134.78 L644.78,134.60 L645.67,134.43 L646.57,134.25 L647.47,134.08 L648.37,133.91 L649.27,133.74 L650.17,133.57 L651.07,133.40 L651.97,133.24 L652.87,133.07 L653.78,132.91 L654.68,132.75 L655.58,132.59 L656.48,132.43 L657.39,132.27 L658.29,132.12 L659.19,131.96 L660.10,131.81 L661.00,131.66 L661.91,131.51 L662.81,131.36 L663.72,131.22 L664.62,131.07 L665.53,130.93 L666.43,130.78 L667.34,130.64 L668.25,130.50 L669.15,130.36 L670.06,130.22 L670.97,130.09 L671.87,129.95 L672.78,129.82 L673.69,129.68 L674.60,129.55 L675.51,129.42 L676.41,129.29 L677.32,129.16 L678.23,129.03 L679.14,128.91 L680.05,128.78 L680.96,128.66 L681.87,128.53 L682.78,128.41 L683.69,128.29 L684.60,128.17 L685.51,128.04 L686.42,127.93 L687.33,127.81 L688.24,127.69 L689.15,127.57 L690.06,127.46 L690.97,127.34 L691.88,127.23 L692.79,127.11 L693.70,127.00 L694.61,126.89 L695.52,126.78 L696.43,126.67 L697.34,126.56 L698.25,126.45 L699.16,126.34 L700.07,126.23 L700.98,126.12 L701.89,126.01 L702.80,125.91 L703.71,125.80 L704.62,125.70 L705.53,125.59 L706.45,125.49 L707.36,125.38 L708.27,125.28 L709.18,125.18 L710.09,125.07 L711.00,124.97 L711.91,124.87 L712.82,124.77 L713.73,124.67 L714.63,124.57 L715.54,124.47 L716.45,124.37 L717.36,124.27 L718.27,124.17 L719.18,124.07 L720.09,123.97 L721.00,123.87 L721.91,123.77 L722.81,123.67 L723.72,123.57 L724.63,123.47 L725.54,123.38 L726.45,123.28 L727.35,123.18 L728.26,123.08 L729.17,122.98 L730.07,122.89 L730.98,122.79 L731.88,122.69 L732.79,122.59 L733.70,122.49 L734.60,122.40 L735.51,122.30 L736.41,122.20 L737.31,122.10 L738.22,122.00 L739.12,121.91 L740.03,121.81 L740.93,121.71 L741.83,121.61 L742.73,121.51 L743.64,121.41 L744.54,121.31 L745.44,121.21 L746.34,121.11 L747.24,121.01 L748.14,120.91 L749.04,120.81 L749.94,120.70 L750.84,120.60 L751.74,120.50 L752.64,120.40 L753.53,120.29 L754.43,120.19 L755.33,120.08 L756.23,119.98 L757.12,119.87 L758.02,119.77 L758.91,119.66 L759.81,119.55 L760.70,119.45 L761.59,119.34 L762.49,119.23 L763.38,119.12 L764.27,119.01 L765.16,118.90 L766.06,118.79 L766.95,118.67 L767.84,118.56 L768.73,118.45" stroke="#21d04f" stroke-width="5.4" stroke-linecap="round" stroke-dasharray="0.5 10.989" stroke-dashoffset="11.249"/>
<path d="M469.41,261.74 L469.71,260.90 L470.01,260.06 L470.31,259.22 L470.62,258.39 L470.93,257.55 L471.25,256.71 L471.56,255.87 L471.88,255.03 L472.21,254.20 L472.53,253.36 L472.86,252.52 L473.19,251.69 L473.53,250.85 L473.86,250.02 L474.20,249.18 L474.55,248.35 L474.89,247.52 L475.24,246.68 L475.60,245.85 L475.95,245.02 L476.31,244.19 L476.67,243.36 L477.04,242.54 L477.40,241.71 L477.78,240.88 L478.15,240.06 L478.53,239.24 L478.91,238.41 L479.29,237.59 L479.68,236.77 L480.07,235.95 L480.46,235.14 L480.86,234.32 L481.26,233.51 L481.66,232.69 L482.06,231.88 L482.47,231.07 L482.89,230.26 L483.30,229.46 L483.72,228.65 L484.14,227.85 L484.57,227.05 L485.00,226.25 L485.43,225.45 L485.87,224.66 L486.31,223.86 L486.75,223.07 L487.19,222.28 L487.64,221.50 L488.10,220.71 L488.55,219.93 L489.01,219.15 L489.48,218.37 L489.94,217.59 L490.41,216.82 L490.89,216.05 L491.36,215.28 L491.84,214.51 L492.33,213.75 L492.82,212.99 L493.31,212.23 L493.80,211.48 L494.30,210.72 L494.80,209.97 L495.31,209.23 L495.82,208.48 L496.33,207.74 L496.85,207.00 L497.37,206.27 L497.89,205.53 L498.42,204.81 L498.95,204.08 L499.49,203.36 L500.02,202.64 L500.57,201.92 L501.11,201.21 L501.66,200.50 L502.22,199.79 L502.78,199.09 L503.34,198.39 L503.90,197.69 L504.47,197.00 L505.04,196.31 L505.62,195.63 L506.20,194.95 L506.79,194.27 L507.38,193.60 L507.97,192.93 L508.56,192.26 L509.16,191.60 L509.77,190.94 L510.37,190.28 L510.98,189.63 L511.60,188.98 L512.21,188.34 L512.84,187.70 L513.46,187.06 L514.09,186.43 L514.72,185.80 L515.35,185.17 L515.99,184.55 L516.64,183.93 L517.28,183.32 L517.93,182.71 L518.58,182.10 L519.24,181.50 L519.90,180.90 L520.56,180.30 L521.22,179.71 L521.89,179.12 L522.56,178.53 L523.24,177.95 L523.92,177.37 L524.60,176.80 L525.28,176.23 L525.97,175.66 L526.66,175.10 L527.35,174.54 L528.05,173.99 L528.75,173.43 L529.45,172.89 L530.16,172.34 L530.86,171.80 L531.57,171.26 L532.29,170.73 L533.01,170.20 L533.72,169.68 L534.45,169.15 L535.17,168.64 L535.90,168.12 L536.63,167.61 L537.36,167.10 L538.10,166.60 L538.84,166.10 L539.58,165.60 L540.33,165.11 L541.07,164.62 L541.82,164.14 L542.57,163.66 L543.33,163.18 L544.08,162.71 L544.84,162.24 L545.60,161.77 L546.37,161.31 L547.14,160.85 L547.90,160.40 L548.68,159.95 L549.45,159.50 L550.23,159.06 L551.00,158.62 L551.78,158.18 L552.57,157.75 L553.35,157.32 L554.14,156.90 L554.93,156.48 L555.72,156.06 L556.51,155.65 L557.31,155.24 L558.11,154.83 L558.91,154.43 L559.71,154.03 L560.51,153.64 L561.32,153.25 L562.12,152.86 L562.93,152.48 L563.75,152.10 L564.56,151.73 L565.37,151.36 L566.19,150.99 L567.01,150.63 L567.83,150.27 L568.65,149.91 L569.48,149.56 L570.30,149.21 L571.13,148.86 L571.96,148.52 L572.79,148.19 L573.62,147.85 L574.46,147.52 L575.29,147.20 L576.13,146.88 L576.97,146.56 L577.81,146.24 L578.65,145.93 L579.50,145.63 L580.34,145.32 L581.19,145.02 L582.03,144.73 L582.88,144.44 L583.73,144.15 L584.59,143.86 L585.44,143.58 L586.29,143.30 L587.15,143.02 L588.00,142.75 L588.86,142.48 L589.72,142.22 L590.58,141.95 L591.44,141.69 L592.30,141.44 L593.17,141.18 L594.03,140.93 L594.90,140.68 L595.76,140.44 L596.63,140.19 L597.50,139.95 L598.37,139.71 L599.24,139.48 L600.11,139.25 L600.98,139.02 L601.85,138.79 L602.72,138.56 L603.60,138.34 L604.47,138.12 L605.35,137.90 L606.22,137.69 L607.10,137.47 L607.98,137.26 L608.86,137.05 L609.73,136.85 L610.61,136.64 L611.49,136.44 L612.37,136.23 L613.25,136.04 L614.13,135.84 L615.01,135.64 L615.90,135.45 L616.78,135.25 L617.66,135.06 L618.54,134.87 L619.43,134.69 L620.31,134.50 L621.19,134.31 L622.08,134.13 L622.96,133.95 L623.84,133.77 L624.73,133.59 L625.61,133.41 L626.50,133.23 L627.38,133.05 L628.27,132.88 L629.15,132.71 L630.04,132.53 L630.92,132.36 L631.81,132.19 L632.69,132.02 L633.58,131.85 L634.46,131.69 L635.35,131.52 L636.23,131.36 L637.12,131.19 L638.01,131.03 L638.89,130.87 L639.78,130.71 L640.66,130.55 L641.55,130.39 L642.44,130.23 L643.32,130.07 L644.21,129.92 L645.10,129.76 L645.98,129.61 L646.87,129.46 L647.76,129.31 L648.64,129.15 L649.53,129.00 L650.42,128.86 L651.30,128.71 L652.19,128.56 L653.08,128.41 L653.96,128.27 L654.85,128.12 L655.74,127.98 L656.63,127.84 L657.51,127.69 L658.40,127.55 L659.29,127.41 L660.17,127.27 L661.06,127.13 L661.95,126.99 L662.84,126.85 L663.72,126.72 L664.61,126.58 L665.50,126.45 L666.39,126.31 L667.27,126.18 L668.16,126.04 L669.05,125.91 L669.94,125.78 L670.82,125.65 L671.71,125.51 L672.60,125.38 L673.49,125.25 L674.37,125.12 L675.26,125.00 L676.15,124.87 L677.03,124.74 L677.92,124.61 L678.81,124.49 L679.70,124.36 L680.58,124.24 L681.47,124.11 L682.36,123.99 L683.25,123.86 L684.13,123.74 L685.02,123.62 L685.91,123.50 L686.80,123.38 L687.68,123.26 L688.57,123.14 L689.46,123.02 L690.35,122.90 L691.23,122.79 L692.12,122.67 L693.01,122.56 L693.90,122.44 L694.78,122.33 L695.67,122.21 L696.56,122.10 L697.45,121.99 L698.34,121.88 L699.23,121.77 L700.11,121.66 L701.00,121.56 L701.89,121.45 L702.78,121.34 L703.67,121.24 L704.56,121.13 L705.45,121.03 L706.33,120.93 L707.22,120.82 L708.11,120.72 L709.00,120.62 L709.89,120.53 L710.78,120.43 L711.67,120.33 L712.56,120.24 L713.45,120.14 L714.34,120.05 L715.23,119.95 L716.12,119.86 L717.01,119.77 L717.90,119.68 L718.79,119.59 L719.68,119.50 L720.58,119.42 L721.47,119.33 L722.36,119.25 L723.25,119.16 L724.14,119.08 L725.03,119.00 L725.93,118.92 L726.82,118.84 L727.71,118.76 L728.60,118.69 L729.50,118.61 L730.39,118.54 L731.28,118.46 L732.18,118.39 L733.07,118.32 L733.97,118.25 L734.86,118.18 L735.75,118.12 L736.65,118.05 L737.54,117.99 L738.44,117.92 L739.33,117.86 L740.23,117.80 L741.13,117.74 L742.02,117.68 L742.92,117.62 L743.82,117.57 L744.71,117.51 L745.61,117.46 L746.51,117.41 L747.40,117.36 L748.30,117.31 L749.20,117.26 L750.10,117.22 L751.00,117.17 L751.90,117.13 L752.80,117.09 L753.70,117.05 L754.60,117.01 L755.50,116.97 L756.40,116.93 L757.30,116.90 L758.20,116.86 L759.10,116.83 L760.00,116.80 L760.90,116.77 L761.81,116.75 L762.71,116.72 L763.61,116.69 L764.52,116.67 L765.42,116.65 L766.32,116.63 L767.23,116.61 L768.13,116.60 L769.04,116.58" stroke="#000" stroke-width="2.6"/>
<path d="M469.72,273.89 L469.93,272.87 L470.15,271.84 L470.37,270.82 L470.60,269.79 L470.82,268.77 L471.04,267.75 L471.27,266.74 L471.50,265.72 L471.73,264.70 L471.96,263.69 L472.19,262.68 L472.42,261.67 L472.66,260.66 L472.89,259.65 L473.13,258.64 L473.37,257.64 L473.61,256.63 L473.85,255.63 L474.10,254.63 L474.34,253.63 L474.59,252.63 L474.83,251.63 L475.08,250.63 L475.33,249.63 L475.58,248.64 L475.84,247.64 L476.09,246.65 L476.35,245.65 L476.60,244.66 L476.86,243.67 L477.12,242.67 L477.38,241.68 L477.64,240.69 L477.91,239.70 L478.17,238.71 L478.44,237.72 L478.70,236.73 L478.97,235.74 L479.24,234.75 L479.51,233.77 L479.78,232.78 L480.06,231.79 L480.33,230.80 L480.61,229.82 L480.88,228.83 L481.16,227.84 L481.44,226.85 L481.72,225.87 L482.00,224.88 L482.29,223.89 L482.57,222.90 L482.86,221.92 L483.14,220.93 L483.43,219.94 L483.72,218.95 L484.01,217.96 L484.30,216.97 L484.59,215.99 L484.89,215.00 L485.18,214.01 L485.48,213.02 L485.77,212.03 L486.07,211.04 L486.37,210.04 L486.67,209.05 L486.98,208.06 L487.28,207.07 L487.59,206.08 L487.90,205.09 L488.21,204.10 L488.52,203.12 L488.84,202.13 L489.15,201.14 L489.47,200.15 L489.79,199.16 L490.11,198.18 L490.44,197.19 L490.77,196.20 L491.10,195.22 L491.43,194.23 L491.76,193.25 L492.10,192.27 L492.44,191.29 L492.78,190.30 L493.13,189.32 L493.47,188.35 L493.82,187.37 L494.18,186.39 L494.53,185.42 L494.89,184.44 L495.25,183.47 L495.62,182.50 L495.99,181.53 L496.36,180.56 L496.73,179.59 L497.11,178.62 L497.49,177.66 L497.88,176.70 L498.26,175.73 L498.65,174.77 L499.05,173.82 L499.45,172.86 L499.85,171.91 L500.26,170.95 L500.67,170.00 L501.08,169.06 L501.50,168.11 L501.92,167.16 L502.34,166.22 L502.77,165.28 L503.21,164.34 L503.64,163.41 L504.08,162.48 L504.53,161.55 L504.98,160.62 L505.44,159.69 L505.89,158.77 L506.36,157.85 L506.83,156.93 L507.30,156.01 L507.78,155.10 L508.26,154.19 L508.74,153.28 L509.24,152.38 L509.73,151.48 L510.23,150.58 L510.74,149.68 L511.25,148.79 L511.77,147.90 L512.29,147.02 L512.82,146.13 L513.35,145.25 L513.89,144.38 L514.43,143.50 L514.98,142.63 L515.53,141.77 L516.09,140.91 L516.66,140.05 L517.23,139.19 L517.80,138.34 L518.38,137.49 L518.97,136.64 L519.57,135.80 L520.16,134.97 L520.77,134.13 L521.38,133.30 L522.00,132.48 L522.62,131.66 L523.25,130.84 L523.89,130.03 L524.53,129.22 L525.18,128.41 L525.83,127.61 L526.50,126.82 L527.16,126.02 L527.84,125.24 L528.52,124.46 L529.21,123.68 L529.90,122.91 L530.60,122.14 L531.31,121.38 L532.03,120.63 L532.75,119.89 L533.47,119.15 L534.21,118.42 L534.95,117.69 L535.70,116.97 L536.45,116.27 L537.21,115.57 L537.98,114.87 L538.76,114.19 L539.54,113.52 L540.33,112.85 L541.13,112.20 L541.93,111.55 L542.74,110.92 L543.56,110.29 L544.38,109.68 L545.22,109.08 L546.06,108.48 L546.90,107.90 L547.76,107.33 L548.62,106.78 L549.48,106.23 L550.36,105.70 L551.24,105.18 L552.13,104.68 L553.03,104.18 L553.93,103.70 L554.84,103.23 L555.75,102.77 L556.68,102.33 L557.60,101.90 L558.54,101.48 L559.47,101.07 L560.42,100.67 L561.36,100.29 L562.31,99.92 L563.27,99.55 L564.23,99.21 L565.20,98.87 L566.16,98.54 L567.13,98.22 L568.11,97.92 L569.09,97.63 L570.07,97.34 L571.05,97.07 L572.04,96.81 L573.03,96.55 L574.03,96.31 L575.02,96.07 L576.02,95.85 L577.02,95.63 L578.03,95.43 L579.03,95.23 L580.04,95.04 L581.06,94.85 L582.07,94.68 L583.09,94.51 L584.11,94.35 L585.13,94.20 L586.15,94.05 L587.17,93.91 L588.20,93.78 L589.23,93.65 L590.26,93.53 L591.29,93.42 L592.32,93.31 L593.35,93.21 L594.39,93.11 L595.42,93.01 L596.46,92.93 L597.50,92.84 L598.54,92.76 L599.58,92.69 L600.62,92.61 L601.66,92.55 L602.70,92.48 L603.74,92.42 L604.79,92.36 L605.83,92.30 L606.87,92.25 L607.92,92.20 L608.96,92.15 L610.00,92.10 L611.05,92.05 L612.09,92.01 L613.13,91.97 L614.18,91.92 L615.22,91.88 L616.26,91.84 L617.30,91.80 L618.34,91.76 L619.38,91.72 L620.43,91.68 L621.47,91.64 L622.50,91.61 L623.54,91.57 L624.58,91.53 L625.62,91.50 L626.66,91.46 L627.70,91.43 L628.73,91.40 L629.77,91.36 L630.81,91.33 L631.84,91.30 L632.88,91.27 L633.91,91.23 L634.95,91.20 L635.98,91.17 L637.02,91.14 L638.05,91.12 L639.09,91.09 L640.12,91.06 L641.15,91.03 L642.18,91.01 L643.22,90.98 L644.25,90.95 L645.28,90.93 L646.31,90.90 L647.35,90.88 L648.38,90.86 L649.41,90.83 L650.44,90.81 L651.47,90.79 L652.50,90.77 L653.53,90.75 L654.56,90.72 L655.59,90.70 L656.62,90.68 L657.65,90.66 L658.68,90.65 L659.71,90.63 L660.74,90.61 L661.76,90.59 L662.79,90.57 L663.82,90.56 L664.85,90.54 L665.88,90.52 L666.91,90.51 L667.93,90.49 L668.96,90.48 L669.99,90.46 L671.02,90.45 L672.04,90.44 L673.07,90.42 L674.10,90.41 L675.12,90.40 L676.15,90.39 L677.18,90.37 L678.21,90.36 L679.23,90.35 L680.26,90.34 L681.29,90.33 L682.31,90.32 L683.34,90.31 L684.37,90.30 L685.39,90.29 L686.42,90.28 L687.44,90.27 L688.47,90.26 L689.50,90.26 L690.52,90.25 L691.55,90.24 L692.58,90.23 L693.60,90.23 L694.63,90.22 L695.66,90.21 L696.68,90.21 L697.71,90.20 L698.74,90.19 L699.76,90.19 L700.79,90.18 L701.82,90.18 L702.85,90.17 L703.87,90.17 L704.90,90.17 L705.93,90.16 L706.96,90.16 L707.98,90.15 L709.01,90.15 L710.04,90.15 L711.07,90.14 L712.09,90.14 L713.12,90.14 L714.15,90.14 L715.18,90.13 L716.21,90.13 L717.24,90.13 L718.27,90.13 L719.30,90.13 L720.33,90.12 L721.36,90.12 L722.39,90.12 L723.42,90.12 L724.45,90.12 L725.48,90.12 L726.51,90.12 L727.54,90.12 L728.57,90.12 L729.60,90.11 L730.63,90.11 L731.66,90.11 L732.70,90.11 L733.73,90.11 L734.76,90.11 L735.80,90.11 L736.83,90.11 L737.86,90.11 L738.90,90.11 L739.93,90.11 L740.97,90.11 L742.00,90.11 L743.04,90.11 L744.07,90.11 L745.11,90.11 L746.14,90.12 L747.18,90.12 L748.22,90.12 L749.26,90.12 L750.29,90.12 L751.33,90.12 L752.37,90.12 L753.41,90.12 L754.45,90.12 L755.49,90.12 L756.53,90.12 L757.57,90.12 L758.61,90.12 L759.65,90.12 L760.69,90.12 L761.74,90.12 L762.78,90.12 L763.82,90.12 L764.87,90.12 L765.91,90.12 L766.95,90.12 L768.00,90.12 L769.04,90.12" stroke="#f00" stroke-width="4.5" stroke-dasharray="1.0 5.1 5.4 5.104" stroke-dashoffset="0.4"/>
<path d="M469.51,175.40 L469.54,175.22 L469.57,175.03 L469.60,174.85 L469.63,174.66 L469.66,174.48 L469.69,174.30 L469.72,174.11 L469.75,173.93 L469.78,173.74 L469.81,173.56 L469.84,173.37 L469.87,173.19 L469.89,173.01 L469.92,172.82 L469.95,172.64 L469.98,172.45 L470.01,172.27 L470.04,172.08 L470.07,171.90 L470.10,171.72 L470.12,171.53 L470.15,171.35 L470.18,171.16 L470.21,170.98 L470.24,170.79 L470.26,170.61 L470.29,170.43 L470.32,170.24 L470.35,170.06 L470.37,169.87 L470.40,169.69 L470.43,169.50 L470.46,169.32 L470.48,169.13 L470.51,168.95 L470.54,168.76 L470.57,168.58 L470.59,168.40 L470.62,168.21 L470.65,168.03 L470.67,167.84 L470.70,167.66 L470.73,167.47 L470.75,167.29 L470.78,167.10 L470.81,166.92 L470.83,166.73 L470.86,166.55 L470.88,166.36 L470.91,166.18 L470.94,166.00 L470.96,165.81 L470.99,165.63 L471.01,165.44 L471.04,165.26 L471.07,165.07 L471.09,164.89 L471.12,164.70 L471.14,164.52 L471.17,164.33 L471.19,164.15 L471.22,163.96 L471.24,163.78 L471.27,163.59 L471.29,163.41 L471.32,163.22 L471.34,163.04 L471.37,162.85 L471.39,162.67 L471.42,162.48 L471.44,162.30 L471.47,162.11 L471.49,161.93 L471.52,161.74 L471.54,161.56 L471.57,161.37 L471.59,161.19 L471.61,161.01 L471.64,160.82 L471.66,160.64 L471.69,160.45 L471.71,160.27 L471.74,160.08 L471.76,159.90 L471.78,159.71 L471.81,159.53 L471.83,159.34 L471.86,159.16 L471.88,158.97 L471.90,158.79 L471.93,158.60 L471.95,158.42 L471.97,158.23 L472.00,158.05 L472.02,157.86 L472.04,157.68 L472.07,157.49 L472.09,157.31 L472.11,157.12 L472.14,156.94 L472.16,156.75 L472.18,156.56 L472.21,156.38 L472.23,156.19 L472.25,156.01 L472.28,155.82 L472.30,155.64 L472.32,155.45 L472.34,155.27 L472.37,155.08 L472.39,154.90 L472.41,154.71 L472.43,154.53 L472.46,154.34 L472.48,154.16 L472.50,153.97 L472.53,153.79 L472.55,153.60 L472.57,153.42 L472.59,153.23 L472.61,153.05 L472.64,152.86 L472.66,152.68 L472.68,152.49 L472.70,152.31 L472.73,152.12 L472.75,151.94 L472.77,151.75 L472.79,151.57 L472.81,151.38 L472.84,151.20 L472.86,151.01 L472.88,150.82 L472.90,150.64 L472.92,150.45 L472.95,150.27 L472.97,150.08 L472.99,149.90 L473.01,149.71 L473.03,149.53 L473.05,149.34 L473.08,149.16 L473.10,148.97 L473.12,148.79 L473.14,148.60 L473.16,148.42 L473.18,148.23 L473.21,148.05 L473.23,147.86 L473.25,147.67 L473.27,147.49 L473.29,147.30 L473.31,147.12 L473.34,146.93 L473.36,146.75 L473.38,146.56 L473.40,146.38 L473.42,146.19 L473.44,146.01 L473.46,145.82 L473.48,145.64 L473.51,145.45 L473.53,145.27 L473.55,145.08 L473.57,144.90 L473.59,144.71 L473.61,144.52 L473.63,144.34 L473.65,144.15 L473.68,143.97 L473.70,143.78 L473.72,143.60 L473.74,143.41 L473.76,143.23 L473.78,143.04 L473.80,142.86 L473.82,142.67 L473.84,142.49 L473.86,142.30 L473.89,142.11 L473.91,141.93 L473.93,141.74 L473.95,141.56 L473.97,141.37 L473.99,141.19 L474.01,141.00 L474.03,140.82 L474.05,140.63 L474.07,140.45 L474.10,140.26 L474.12,140.08 L474.14,139.89 L474.16,139.70 L474.18,139.52 L474.20,139.33 L474.22,139.15 L474.24,138.96 L474.26,138.78 L474.28,138.59 L474.31,138.41 L474.33,138.22 L474.35,138.04 L474.37,137.85 L474.39,137.67 L474.41,137.48 L474.43,137.29 L474.45,137.11 L474.47,136.92 L474.49,136.74 L474.51,136.55 L474.54,136.37 L474.56,136.18 L474.58,136.00 L474.60,135.81 L474.62,135.63 L474.64,135.44 L474.66,135.26 L474.68,135.07 L474.70,134.89 L474.72,134.70 L474.75,134.51 L474.77,134.33 L474.79,134.14 L474.81,133.96 L474.83,133.77 L474.85,133.59 L474.87,133.40 L474.89,133.22 L474.91,133.03 L474.94,132.85 L474.96,132.66 L474.98,132.48 L475.00,132.29 L475.02,132.10 L475.04,131.92 L475.06,131.73 L475.08,131.55 L475.11,131.36 L475.13,131.18 L475.15,130.99 L475.17,130.81 L475.19,130.62 L475.21,130.44 L475.23,130.25 L475.26,130.07 L475.28,129.88 L475.30,129.70 L475.32,129.51 L475.34,129.33 L475.36,129.14 L475.38,128.95 L475.41,128.77 L475.43,128.58 L475.45,128.40 L475.47,128.21 L475.49,128.03 L475.51,127.84 L475.54,127.66 L475.56,127.47 L475.58,127.29 L475.60,127.10 L475.62,126.92 L475.65,126.73 L475.67,126.55 L475.69,126.36 L475.71,126.18 L475.73,125.99 L475.76,125.80 L475.78,125.62 L475.80,125.43 L475.82,125.25 L475.84,125.06 L475.87,124.88 L475.89,124.69 L475.91,124.51 L475.93,124.32 L475.96,124.14 L475.98,123.95 L476.00,123.77 L476.02,123.58 L476.05,123.40 L476.07,123.21 L476.09,123.03 L476.11,122.84 L476.14,122.66 L476.16,122.47 L476.18,122.29 L476.20,122.10 L476.23,121.92 L476.25,121.73 L476.27,121.55 L476.30,121.36 L476.32,121.18 L476.34,120.99 L476.36,120.81 L476.39,120.62 L476.41,120.44 L476.43,120.25 L476.46,120.07 L476.48,119.88 L476.50,119.70 L476.53,119.51 L476.55,119.32 L476.57,119.14 L476.60,118.95 L476.62,118.77 L476.65,118.58 L476.67,118.40 L476.69,118.21 L476.72,118.03 L476.74,117.84 L476.76,117.66 L476.79,117.47 L476.81,117.29 L476.84,117.10 L476.86,116.92 L476.88,116.73 L476.91,116.55 L476.93,116.37 L476.96,116.18 L476.98,116.00 L477.01,115.81 L477.03,115.63 L477.06,115.44 L477.08,115.26 L477.10,115.07 L477.13,114.89 L477.15,114.70 L477.18,114.52 L477.20,114.33 L477.23,114.15 L477.25,113.96 L477.28,113.78 L477.30,113.59 L477.33,113.41 L477.35,113.22 L477.38,113.04 L477.41,112.85 L477.43,112.67 L477.46,112.48 L477.48,112.30 L477.51,112.11 L477.53,111.93 L477.56,111.74 L477.59,111.56 L477.61,111.37 L477.64,111.19 L477.66,111.01 L477.69,110.82 L477.72,110.64 L477.74,110.45 L477.77,110.27 L477.80,110.08 L477.82,109.90 L477.85,109.71 L477.88,109.53 L477.90,109.34 L477.93,109.16 L477.96,108.97 L477.98,108.79 L478.01,108.61 L478.04,108.42 L478.06,108.24 L478.09,108.05 L478.12,107.87 L478.15,107.68 L478.17,107.50 L478.20,107.31 L478.23,107.13 L478.26,106.94 L478.28,106.76 L478.31,106.58 L478.34,106.39 L478.37,106.21 L478.40,106.02 L478.42,105.84 L478.45,105.65 L478.48,105.47 L478.51,105.28 L478.54,105.10 L478.57,104.92 L478.60,104.73 L478.62,104.55 L478.65,104.36 L478.68,104.18 L478.71,103.99 L478.74,103.81 L478.77,103.63 L478.80,103.44 L478.83,103.26 L478.86,103.07 L478.89,102.89 L478.92,102.70 L478.95,102.52 L478.98,102.34 L479.01,102.15 L479.04,101.97 L479.07,101.78 L479.10,101.60" stroke="#00f" stroke-width="3.1" stroke-dasharray="15.6 13.6"/>
</g>
<text transform="translate(469.4,301) scale(1,0.96)" font-size="19.4" text-anchor="middle">1</text>
<text transform="translate(544.1,301) scale(1,0.96)" font-size="19.4" text-anchor="middle">2</text>
<text transform="translate(618.9,301) scale(1,0.96)" font-size="19.4" text-anchor="middle">3</text>
<text transform="translate(693.6,301) scale(1,0.96)" font-size="19.4" text-anchor="middle">4</text>
<text transform="translate(768.4,301) scale(1,0.96)" font-size="19.4" text-anchor="middle">5</text>
<text transform="translate(458.9,95.3) scale(1,0.96)" font-size="19.4" text-anchor="end">0.0</text>
<text transform="translate(458.9,122.8) scale(1,0.96)" font-size="19.4" text-anchor="end"><tspan dy="0.9">−</tspan><tspan dy="-0.9">0.1</tspan></text>
<text transform="translate(458.9,150.2) scale(1,0.96)" font-size="19.4" text-anchor="end"><tspan dy="0.9">−</tspan><tspan dy="-0.9">0.2</tspan></text>
<text transform="translate(458.9,177.7) scale(1,0.96)" font-size="19.4" text-anchor="end"><tspan dy="0.9">−</tspan><tspan dy="-0.9">0.3</tspan></text>
<text transform="translate(458.9,205.1) scale(1,0.96)" font-size="19.4" text-anchor="end"><tspan dy="0.9">−</tspan><tspan dy="-0.9">0.4</tspan></text>
<text transform="translate(458.9,232.6) scale(1,0.96)" font-size="19.4" text-anchor="end"><tspan dy="0.9">−</tspan><tspan dy="-0.9">0.5</tspan></text>
<text transform="translate(458.9,260.1) scale(1,0.96)" font-size="19.4" text-anchor="end"><tspan dy="0.9">−</tspan><tspan dy="-0.9">0.6</tspan></text>
<text transform="translate(458.9,287.5) scale(1,0.96)" font-size="19.4" text-anchor="end"><tspan dy="0.9">−</tspan><tspan dy="-0.9">0.7</tspan></text>
<rect x="567.5" y="221" width="165" height="43.8" fill="#fff" stroke="#000" stroke-width="1.5"/>
<text transform="translate(650.2,250.2) scale(1.0,0.96)" font-size="30.5" text-anchor="middle">long−range</text>
</svg></body></html>
